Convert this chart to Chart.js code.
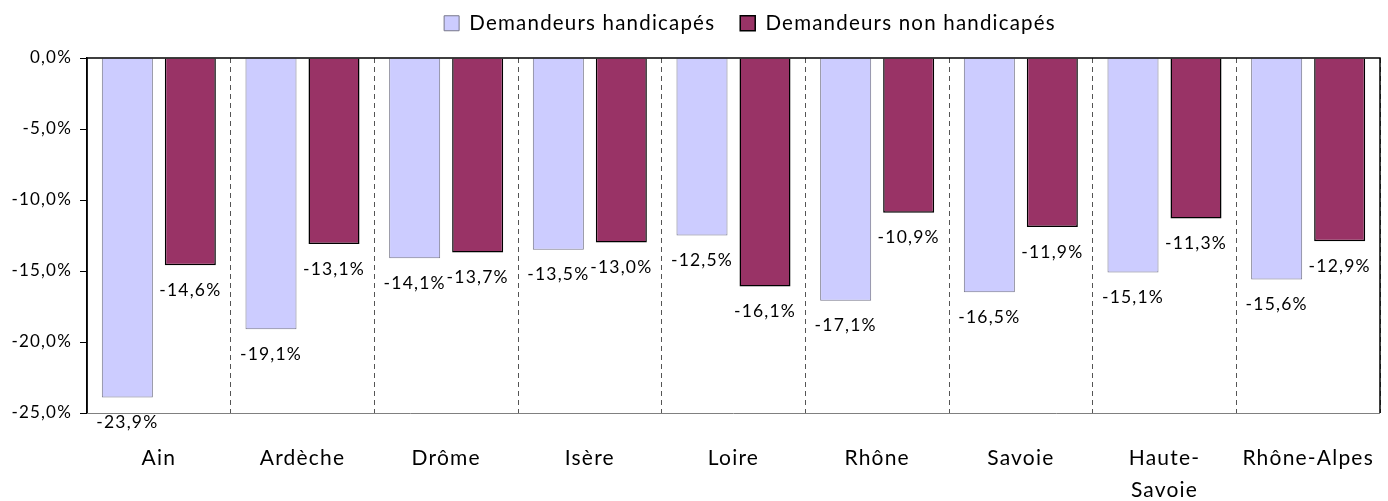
<!DOCTYPE html>
<html>
<head>
<meta charset="utf-8">
<script src="https://cdn.jsdelivr.net/npm/chart.js@4/dist/chart.umd.min.js"></script>
<style>
  html, body { margin: 0; padding: 0; background: #fff; }
  #wrap { width: 1388px; height: 501px; }
</style>
</head>
<body>
<div id="wrap"><canvas id="grafico"></canvas></div>
<script>
// categories (Haute-Savoie wraps on two lines)
const departements = ['Ain', 'Ardèche', 'Drôme', 'Isère', 'Loire', 'Rhône', 'Savoie', ['Haute-', 'Savoie'], 'Rhône-Alpes']

// evolution in %
const handicapes = [-23.9, -19.1, -14.1, -13.5, -12.5, -17.1, -16.5, -15.1, -15.6]
const nonHandicapes = [-14.6, -13.1, -13.7, -13.0, -16.1, -10.9, -11.9, -11.3, -12.9]

const yMin = -25
const yMax = 0
const yStep = 5

const fuente = 'Lato'
const espaciado = '1.2px'

function pct(v) {
    return v.toFixed(1).replace('.', ',') + '%'
}

// wider letters, the original font is a wide one
const letras = {
    id: 'letras',
    beforeLayout(chart) { chart.ctx.letterSpacing = espaciado },
    beforeDraw(chart) { chart.ctx.letterSpacing = espaciado }
}

// labels under each bar end
const etiquetas = {
    id: 'etiquetas',
    afterDatasetsDraw(chart) {
        const ctx = chart.ctx
        ctx.save()
        ctx.font = '17.5px ' + fuente
        ctx.fillStyle = '#000'
        ctx.textAlign = 'center'
        ctx.textBaseline = 'middle'
        chart.data.datasets.forEach((ds, i) => {
            chart.getDatasetMeta(i).data.forEach((bar, j) => {
                ctx.fillText(pct(ds.data[j]), bar.x, bar.y + 25)
            })
        })
        ctx.restore()
    }
}

// frame of the plot area
const marco = {
    id: 'marco',
    afterDraw(chart) {
        const {ctx, chartArea: a} = chart
        ctx.save()
        ctx.lineWidth = 1
        ctx.strokeStyle = '#808080'
        ctx.beginPath()
        ctx.moveTo(a.left, a.bottom + 0.5)
        ctx.lineTo(a.right, a.bottom + 0.5)
        ctx.stroke()
        ctx.strokeStyle = '#000'
        ctx.lineWidth = 1.5
        ctx.beginPath()
        ctx.moveTo(a.left, a.top)
        ctx.lineTo(a.right, a.top)
        ctx.lineTo(a.right, a.bottom)
        ctx.stroke()
        ctx.beginPath()
        ctx.moveTo(a.left, a.top)
        ctx.lineTo(a.left, a.bottom)
        ctx.stroke()
        ctx.restore()
    }
}

// legend a bit higher and moved right, like the original
const leyenda = {
    id: 'leyenda',
    afterLayout(chart) {
        chart.legend.top = -12
        chart.legend.left += 60
        chart.legend.right += 60
    }
}

// fixed height for the legend so the plot starts at the same place
const altoLeyenda = {
    id: 'altoLeyenda',
    beforeInit(chart) {
        const fit = chart.legend.fit
        chart.legend.fit = function () {
            fit.call(this)
            this.height = 58
        }
    }
}

const ctx = document.getElementById('grafico').getContext('2d')

const data = {
    labels: departements,
    datasets: [{
        label: 'Demandeurs handicapés',
        data: handicapes,
        backgroundColor: '#CCCCFF',
        borderColor: '#77778a',
        borderWidth: 1,
        borderSkipped: 'start'
    }, {
        label: 'Demandeurs non handicapés',
        data: nonHandicapes,
        backgroundColor: '#993366',
        borderColor: '#000',
        borderWidth: 1.5,
        borderSkipped: 'start'
    }]
}

const options = {
    responsive: true,
    maintainAspectRatio: false,
    animation: false,
    layout: { padding: { left: 0, right: 8, top: 0, bottom: 0 } },
    datasets: { bar: { categoryPercentage: 0.877, barPercentage: 0.81 } },
    scales: {
        x: {
            offset: true,
            grid: { color: '#555', drawTicks: true, tickLength: 27, tickColor: 'rgba(0,0,0,0)', lineWidth: 1 },
            border: { display: false, dash: [5, 4] },
            ticks: { color: '#000', padding: 2, font: { family: fuente, size: 21, lineHeight: 1.52 }, maxRotation: 0, autoSkip: false },
            afterFit(scale) { scale.height = 88 }
        },
        y: {
            min: yMin,
            max: yMax,
            grid: { drawOnChartArea: false, drawTicks: true, tickLength: 7, color: '#000' },
            border: { display: true, color: '#000', width: 1.5 },
            ticks: {
                stepSize: yStep,
                color: '#000',
                padding: 8,
                font: { family: fuente, size: 17 },
                callback: v => pct(v)
            },
            afterFit(scale) { scale.width = 87 }
        }
    },
    plugins: {
        legend: {
            display: true,
            position: 'top',
            labels: {
                color: '#000',
                boxWidth: 15,
                boxHeight: 15,
                padding: 25,
                font: { family: fuente, size: 20.5 }
            }
        },
        tooltip: { enabled: false }
    }
}

const graf = new Chart(ctx, { type: 'bar', data, options, plugins: [letras, etiquetas, marco, leyenda, altoLeyenda] })
</script>
</body>
</html>
